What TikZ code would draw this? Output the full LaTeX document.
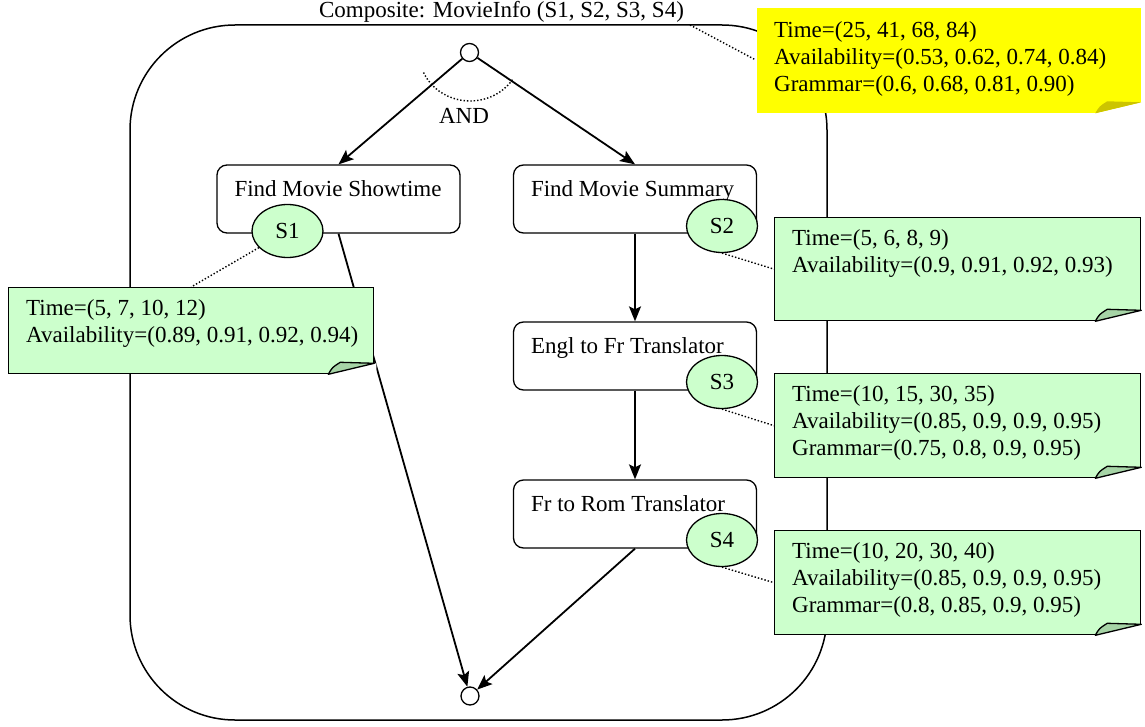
\documentclass[tikz,border=0pt]{standalone}
\usepackage{fontspec}
\setmainfont{Liberation Serif}
\usetikzlibrary{shapes.geometric,arrows.meta}
\definecolor{noteGreen}{HTML}{CCFFCC}
\definecolor{flapGreen}{HTML}{A6D4A6}
\definecolor{noteYellow}{HTML}{FFFF00}
\definecolor{flapYellow}{HTML}{CCC400}

\begin{document}
\begin{tikzpicture}
  [x=1pt,y=-1pt,font=\fontsize{23}{27}\selectfont]
      \tikzstyle{edge_style} = [draw=black, line width=1.8pt, -{Stealth[length=15pt,width=12pt,inset=3pt]}]
      \tikzstyle{link_style} = [draw=black, line width=1.4pt, dotted]
      \tikzstyle{task_style} = [draw=black, line width=1.3pt, rectangle, rounded corners=10pt, minimum width=243pt, minimum height=68pt]
      \tikzstyle{task_label} = [anchor=base west, inner sep=0pt, xshift=18pt, yshift=-32pt]
      \tikzstyle{sid_style} = [draw=black, line width=1.3pt, ellipse, fill=noteGreen, minimum width=71pt, minimum height=53pt, inner sep=0pt]
      \tikzstyle{port_style} = [draw=black, line width=1.3pt, circle, fill=white, minimum size=18pt, inner sep=0pt]
      \tikzstyle{note_style} = [rectangle, anchor=north west, inner sep=0pt, line width=1.3pt]
      \tikzstyle{note_label} = [anchor=north west, align=left, inner sep=0pt, xshift=18pt, yshift=-12pt]
  \useasboundingbox (0,0) rectangle (1145,727);

  % composite service
  \node[draw=black, line width=1.5pt, rectangle, rounded corners=105pt, minimum width=697pt, minimum height=695pt] (composite) at (478.5,372.5) {};
  \node[anchor=base] (composite_title) at (501.5,18) {Composite: MovieInfo (S1, S2, S3, S4)};
  \coordinate (composite_link) at (690,25);

  \node[port_style] (start) at (469.5,52.5) {};
  \node[port_style] (finish) at (470,696) {};

  \node[task_style, label={[task_label]north west:Find Movie Showtime}] (t1) at (338.5,199) {};
  \node[task_style, label={[task_label]north west:Find Movie Summary}] (t2) at (635,199) {};
  \node[task_style, label={[task_label]north west:Engl to Fr Translator}] (t3) at (635,356) {};
  \node[task_style, label={[task_label]north west:Fr to Rom Translator}] (t4) at (635,514) {};

  \node[sid_style] (s1) at (287.5,231) {S1};
  \node[sid_style] (s2) at (722,226) {S2};
  \node[sid_style] (s3) at (722,382) {S3};
  \node[sid_style] (s4) at (722,540) {S4};

  \draw[edge_style] (start) -- (t1.north);
  \draw[edge_style] (start) -- (t2.north);
  \draw[edge_style] (t1.south) -- (finish);
  \draw[edge_style] (t2.south) -- (t3.north);
  \draw[edge_style] (t3.south) -- (t4.north);
  \draw[edge_style] (t4.south) -- (finish);

  % AND split
  \draw[link_style] ([shift={(-46,20)}]start.center) arc[start angle=156, end angle=32, x radius=51, y radius=48];
  \node[anchor=base] (and_label) at (464,124) {AND};

  % QoS notes
  \node[note_style, fill=noteYellow, minimum width=384pt, minimum height=105pt,
    label={[note_label, yshift=-2pt]north west:{Time=(25, 41, 68, 84)\\Availability=(0.53, 0.62, 0.74, 0.84)\\Grammar=(0.6, 0.68, 0.81, 0.90)}}] (n0) at (756,7) {};
  \node[note_style, draw=black, fill=noteGreen, minimum width=365pt, minimum height=86pt,
    label={[note_label]north west:{Time=(5, 7, 10, 12)\\Availability=(0.89, 0.91, 0.92, 0.94)}}] (n1) at (8,287) {};
  \node[note_style, draw=black, fill=noteGreen, minimum width=366pt, minimum height=103pt,
    label={[note_label]north west:{Time=(5, 6, 8, 9)\\Availability=(0.9, 0.91, 0.92, 0.93)}}] (n2) at (774,217) {};
  \node[note_style, draw=black, fill=noteGreen, minimum width=366pt, minimum height=104pt,
    label={[note_label]north west:{Time=(10, 15, 30, 35)\\Availability=(0.85, 0.9, 0.9, 0.95)\\Grammar=(0.75, 0.8, 0.9, 0.95)}}] (n3) at (774,373) {};
  \node[note_style, draw=black, fill=noteGreen, minimum width=366pt, minimum height=104pt,
    label={[note_label]north west:{Time=(10, 20, 30, 40)\\Availability=(0.85, 0.9, 0.9, 0.95)\\Grammar=(0.8, 0.85, 0.9, 0.95)}}] (n4) at (774,530) {};

  % folded corners
  \foreach \n/\c/\d in {n0/flapYellow/none, n1/flapGreen/black, n2/flapGreen/black, n3/flapGreen/black, n4/flapGreen/black} {
    \fill[white] ([xshift=-46pt,yshift=-2pt]\n.south east) -- ([xshift=2pt,yshift=-2pt]\n.south east) -- ([xshift=2pt,yshift=11pt]\n.south east) -- ([yshift=11pt]\n.south east) -- ([xshift=-46pt]\n.south east) -- cycle;
    \draw[draw=\d, line width=1.3pt, fill=\c, line join=round] ([xshift=-46pt]\n.south east) .. controls ([xshift=-42pt,yshift=7pt]\n.south east) .. ([xshift=-34pt,yshift=12pt]\n.south east) -- ([yshift=11pt]\n.south east) -- cycle;
  }

  % links to notes
  \draw[link_style] (composite_link) -- (n0.west);
  \draw[link_style] (s1) -- (n1.north);
  \draw[link_style] (s2.south) -- (n2.west);
  \draw[link_style] (s3.south) -- (n3.west);
  \draw[link_style] (s4.south) -- (n4.west);
\end{tikzpicture}
\end{document}
